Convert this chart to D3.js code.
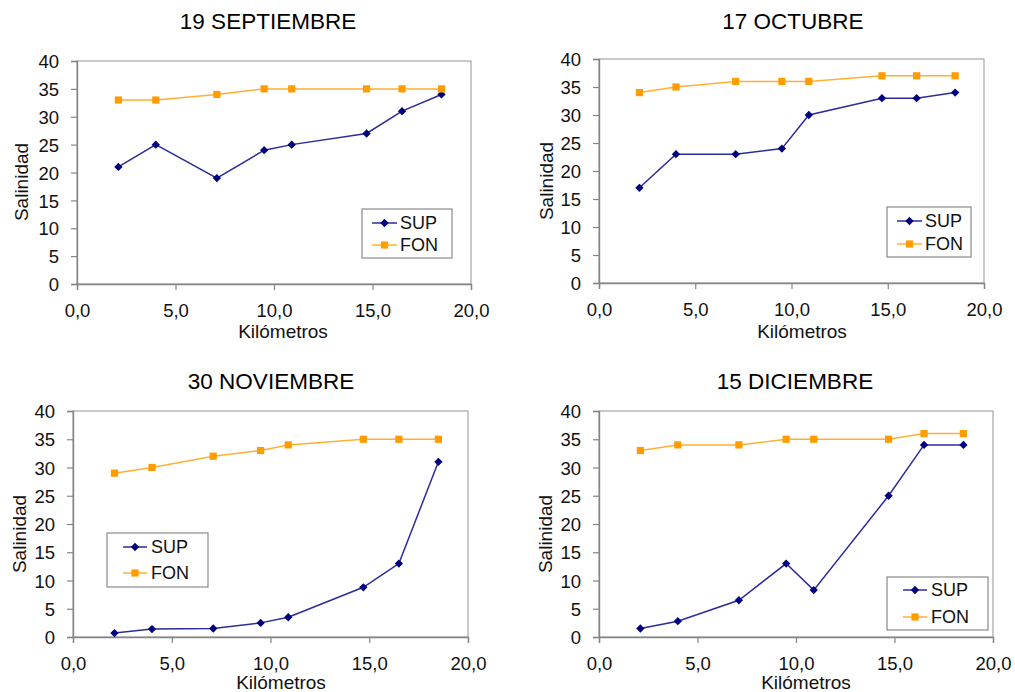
<!DOCTYPE html>
<html>
<head>
<meta charset="utf-8">
<script src="https://cdn.jsdelivr.net/npm/d3@7"></script>
<style>
  html, body { margin: 0; padding: 0; background: #fff; }
  svg { display: block; font-family: "Liberation Sans", Arial, sans-serif; }
</style>
</head>
<body>
<svg id="chart" width="1015" height="692"></svg>
<script>
// Station distances along the estuary (km)
const km = [2.1, 4.0, 7.1, 9.5, 10.9, 14.7, 16.5, 18.5];

// Campaign titles
const titles = ["19 SEPTIEMBRE", "17 OCTUBRE", "30 NOVIEMBRE", "15 DICIEMBRE"];

// Surface (SUP) and bottom (FON) salinity per campaign
const supSep = [21, 25, 19, 24, 25, 27, 31, 34];
const fonSep = [33, 33, 34, 35, 35, 35, 35, 35];
const supOct = [17, 23, 23, 24, 30, 33, 33, 34];
const fonOct = [34, 35, 36, 36, 36, 37, 37, 37];
const supNov = [0.7, 1.4, 1.5, 2.5, 3.5, 8.8, 13, 31];
const fonNov = [29, 30, 32, 33, 34, 35, 35, 35];
const supDic = [1.5, 2.8, 6.5, 13, 8.3, 25, 34, 34];
const fonDic = [33, 34, 34, 35, 35, 35, 36, 36];

// Axis ticks
const xTicks = [0, 5, 10, 15, 20];
const yTicks = [0, 5, 10, 15, 20, 25, 30, 35, 40];
const seriesNames = ["SUP", "FON"];

const supSeries = [supSep, supOct, supNov, supDic];
const fonSeries = [fonSep, fonOct, fonNov, fonDic];

// Panel geometry: plot area, title, axis-label and legend placement
const layout = [
  { l: 77,  r: 471, t: 61,  b: 284, titleX: 268, titleY: 29,  yLabX: 28,  yLabY: 182, xLabX: 283, xLabY: 338,
    leg: { x: 362, y: 209, w: 90,  h: 49, lx0: 10, lx1: 35, tx: 38, r1: 14, r2: 36 } },
  { l: 599, r: 984, t: 59,  b: 283, titleX: 793, titleY: 29,  yLabX: 553, yLabY: 181, xLabX: 802, xLabY: 338,
    leg: { x: 887, y: 207, w: 84,  h: 50, lx0: 10, lx1: 35, tx: 38, r1: 14, r2: 37 } },
  { l: 73,  r: 468, t: 411, b: 637, titleX: 271, titleY: 389, yLabX: 26,  yLabY: 534, xLabX: 281, xLabY: 689,
    leg: { x: 107, y: 533, w: 101, h: 54, lx0: 16, lx1: 40, tx: 44, r1: 14, r2: 40 } },
  { l: 599, r: 993, t: 411, b: 637, titleX: 795, titleY: 389, yLabX: 552, yLabY: 534, xLabX: 806, xLabY: 689,
    leg: { x: 887, y: 577, w: 101, h: 53, lx0: 16, lx1: 40, tx: 44, r1: 13, r2: 40 } }
];

const supColor = "#000080", supLine = "#2b2b9c";
const fonColor = "#ff9c00", fonLine = "#ffb033";
const commaFmt = d3.format(".1f");

const svg = d3.select("#chart");
const diamond = d3.symbol().type(d3.symbolDiamond2).size(44);
const square = d3.symbol().type(d3.symbolSquare).size(52);

layout.forEach((p, i) => {
  const g = svg.append("g");
  const x = d3.scaleLinear().domain([0, 20]).range([p.l, p.r]);
  const y = d3.scaleLinear().domain([0, 40]).range([p.b, p.t]);

  // plot area frame
  g.append("rect")
    .attr("x", p.l).attr("y", p.t)
    .attr("width", p.r - p.l).attr("height", p.b - p.t)
    .attr("fill", "none").attr("stroke", "#a6a6a6").attr("stroke-width", 1.2);

  // axes
  const xAxis = d3.axisBottom(x).tickValues(xTicks).tickSize(6).tickPadding(9)
    .tickFormat(d => commaFmt(d).replace(".", ","));
  const yAxis = d3.axisLeft(y).tickValues(yTicks).tickSize(6).tickPadding(12);

  const gx = g.append("g").attr("transform", `translate(0,${p.b})`).call(xAxis);
  const gy = g.append("g").attr("transform", `translate(${p.l},0)`).call(yAxis);
  [gx, gy].forEach(ax => {
    ax.select(".domain").attr("stroke", "#858585").attr("stroke-width", 1.4);
    ax.selectAll(".tick line").attr("stroke", "#858585").attr("stroke-width", 1.2);
    ax.selectAll(".tick text").attr("fill", "#111").style("font-size", "18.5px")
      .style("font-family", "'Liberation Sans', Arial, sans-serif");
  });
  gx.selectAll(".tick text").attr("dy", "0.95em");
  gy.selectAll(".tick text").attr("dy", "0.36em");

  // title
  g.append("text").attr("x", p.titleX).attr("y", p.titleY)
    .attr("text-anchor", "middle").style("font-size", "22.5px").attr("fill", "#000")
    .text(titles[i]);

  // axis labels
  g.append("text").attr("x", p.xLabX).attr("y", p.xLabY)
    .attr("text-anchor", "middle").style("font-size", "19px").attr("fill", "#111")
    .text("Kilómetros");
  g.append("text")
    .attr("transform", `translate(${p.yLabX},${p.yLabY}) rotate(-90)`)
    .attr("text-anchor", "middle").style("font-size", "19px").attr("fill", "#111")
    .text("Salinidad");

  // series
  const line = d3.line().x((d, j) => x(km[j])).y(d => y(d));
  const series = [
    { vals: supSeries[i], stroke: supLine, fill: supColor, sym: diamond },
    { vals: fonSeries[i], stroke: fonLine, fill: fonColor, sym: square }
  ];
  series.forEach(s => {
    g.append("path").datum(s.vals).attr("d", line)
      .attr("fill", "none").attr("stroke", s.stroke).attr("stroke-width", 1.5);
    g.selectAll(null).data(s.vals).enter().append("path")
      .attr("d", s.sym)
      .attr("transform", (d, j) => `translate(${x(km[j])},${y(d)})`)
      .attr("fill", s.fill);
  });

  // legend
  const L = p.leg;
  const lg = g.append("g").attr("transform", `translate(${L.x},${L.y})`);
  lg.append("rect").attr("width", L.w).attr("height", L.h)
    .attr("fill", "#fff").attr("stroke", "#8a8a8a").attr("stroke-width", 1.2);
  [L.r1, L.r2].forEach((ry, k) => {
    const s = series[k];
    lg.append("line").attr("x1", L.lx0).attr("x2", L.lx1).attr("y1", ry).attr("y2", ry)
      .attr("stroke", s.stroke).attr("stroke-width", 1.5);
    lg.append("path").attr("d", s.sym)
      .attr("transform", `translate(${(L.lx0 + L.lx1) / 2},${ry})`).attr("fill", s.fill);
    lg.append("text").attr("x", L.tx).attr("y", ry).attr("dy", "0.36em")
      .style("font-size", "18px").attr("fill", "#111").text(seriesNames[k]);
  });
});
</script>
</body>
</html>
